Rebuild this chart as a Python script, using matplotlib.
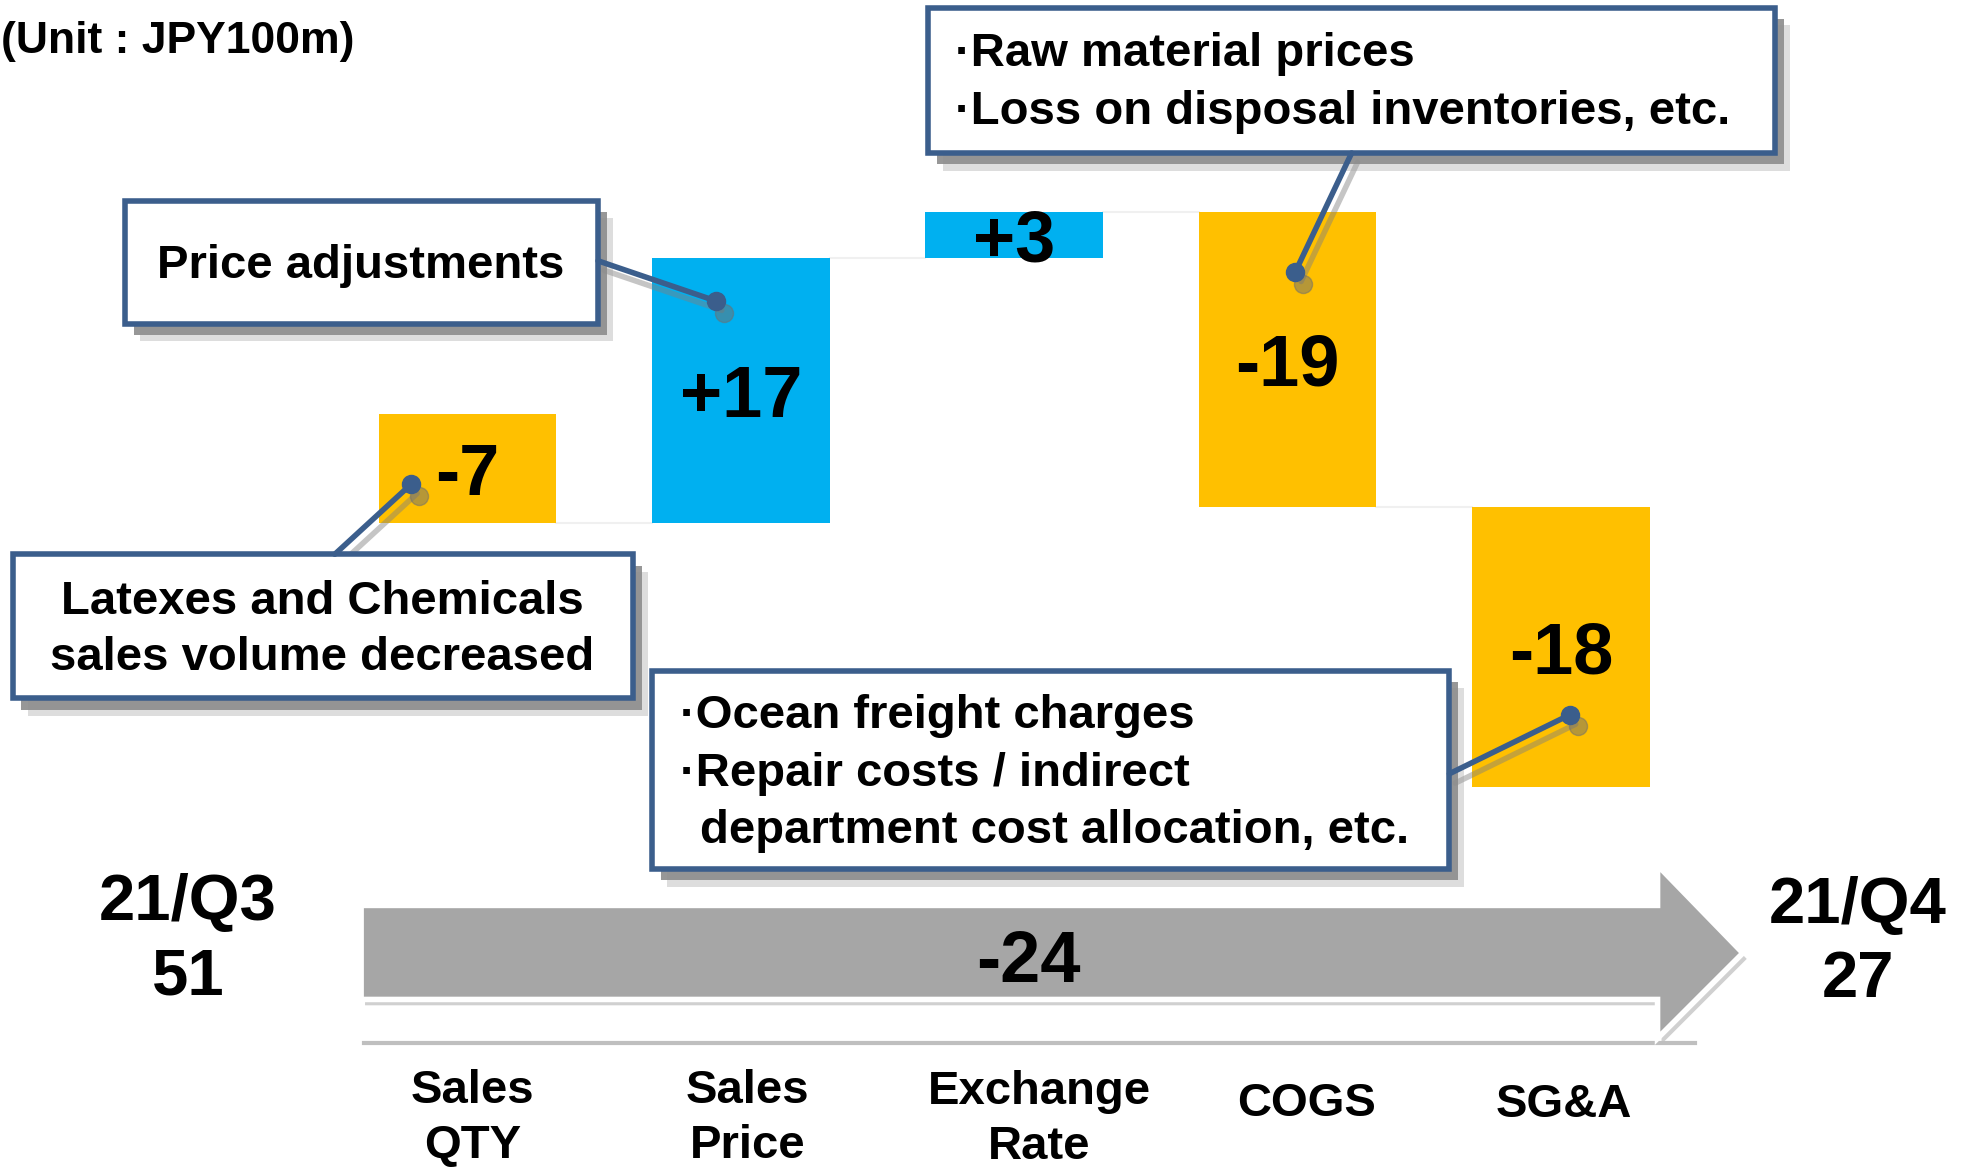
import matplotlib.pyplot as plt
from matplotlib.patches import Rectangle, Polygon

plt.rcParams['font.family'] = ['Liberation Sans', 'Noto Sans CJK JP', 'DejaVu Sans']
plt.rcParams['font.weight'] = 'bold'

# data
categories = ['Sales\nQTY', 'Sales\nPrice', 'Exchange\nRate', 'COGS', 'SG&A']
deltas = [-7, 17, 3, -19, -18]
start_label, start_value = '21/Q3', 51
end_label, end_value = '21/Q4', 27
total_change = -24
unit_text = '(Unit : JPY100m)'

BLUE = '#00B0F0'
ORANGE = '#FFC000'
NAVY = '#3B5E8C'
GRAY = '#A6A6A6'

fig = plt.figure(figsize=(19.66, 11.70), dpi=100)
ax = fig.add_axes([0, 0, 1, 1])
ax.set_xlim(-0.711, 6.482)
ax.set_ylim(2.4, 77.6)
ax.axis('off')


# reference layout pixel (1568x933) -> axes fraction
def P(x, y):
    return x / 1568, 1 - y / 933


# waterfall bars
bottoms = []
level = start_value
for d in deltas:
    bottoms.append(min(level, level + d))
    level += d
xs = list(range(1, len(deltas) + 1))
heights = [abs(d) for d in deltas]
colors = [BLUE if d > 0 else ORANGE for d in deltas]
ax.bar(xs, heights, bottom=bottoms, width=0.65, color=colors, zorder=2)

# faint connectors between bars
level = start_value
for i, d in enumerate(deltas[:-1]):
    level += d
    ax.plot([xs[i] + 0.325, xs[i + 1] - 0.325], [level, level],
            color='#F0F0F0', lw=1.5, zorder=1)

for x, b, h, d in zip(xs, bottoms, heights, deltas):
    ax.text(x, b + h / 2, f'{d:+d}', ha='center', va='center_baseline',
            fontsize=52, fontweight='bold', zorder=5)

# big grey arrow
arrow_pts = [P(288, 722), P(1322, 722), P(1322, 690), P(1390, 760),
             P(1322, 828), P(1322, 797), P(288, 797)]
shadow_pts = [(x + 0.002, y - 0.005) for x, y in arrow_pts]
ax.add_patch(Polygon(shadow_pts, closed=True, transform=ax.transAxes,
                     facecolor='#D0D0D0', edgecolor='none', zorder=1))
ax.add_patch(Polygon(arrow_pts, closed=True, transform=ax.transAxes,
                     facecolor=GRAY, edgecolor='white', lw=4, zorder=2))
ax.text(*P(820, 762), str(total_change), transform=ax.transAxes,
        ha='center', va='center_baseline', fontsize=52, fontweight='bold', zorder=3)

# baseline under arrow
ax.plot(*zip(P(290, 832), P(1352, 832)), transform=ax.transAxes,
        color='#BFBFBF', lw=3, zorder=1)

# start / end values
ax.text(*P(150, 750), f'{start_label}\n{start_value}', transform=ax.transAxes,
        ha='center', va='center', fontsize=47, linespacing=1.3)
ax.text(*P(1482, 752), f'{end_label}\n{end_value}', transform=ax.transAxes,
        ha='center', va='center', fontsize=47, linespacing=1.3)

# category labels
label_pos = [(377, 892), (596, 892), (829, 893), (1042, 880), (1247, 881)]
for c, (lx, ly) in zip(categories, label_pos):
    ax.text(*P(lx, ly), c, transform=ax.transAxes,
            ha='center', va='center', fontsize=34, linespacing=1.33)

ax.text(*P(1, 33), unit_text, transform=ax.transAxes, ha='left', va='center',
        fontsize=32)


# callout boxes
def callout_box(x0, y0, x1, y1):
    w = (x1 - x0) / 1568
    h = (y1 - y0) / 933
    for off, a, fc in [((12, 14), 0.35, '#A0A0A0'), ((7, 9), 0.9, '#8C8C8C')]:
        sx, sy = P(x0 + off[0], y1 + off[1])
        ax.add_patch(Rectangle((sx, sy), w, h, transform=ax.transAxes,
                               facecolor=fc, alpha=a, edgecolor='none', zorder=6))
    bx, by = P(x0, y1)
    ax.add_patch(Rectangle((bx, by), w, h, transform=ax.transAxes, facecolor='white',
                           edgecolor=NAVY, lw=4, zorder=7))


def leader(p0, p1):
    (ax0, ay0), (ax1, ay1) = P(*p0), P(*p1)
    ax.plot([ax0 + 0.003, ax1 + 0.003], [ay0 - 0.008, ay1 - 0.008], transform=ax.transAxes,
            color='#7F7F7F', alpha=0.45, lw=4, zorder=5, solid_capstyle='round')
    ax.plot([ax1 + 0.004], [ay1 - 0.01], 'o', transform=ax.transAxes,
            color='#6F6F6F', alpha=0.5, ms=13, zorder=5)
    ax.plot([ax0, ax1], [ay0, ay1], transform=ax.transAxes,
            color=NAVY, lw=4, zorder=8, solid_capstyle='round')
    ax.plot([ax1], [ay1], 'o', transform=ax.transAxes, color=NAVY, ms=13, zorder=8)


# Price adjustments
leader((477, 208), (571, 240))
callout_box(100, 160, 477, 258)
ax.text(*P(288, 212), 'Price adjustments', transform=ax.transAxes,
        ha='center', va='center', fontsize=34, zorder=9)

# Raw material
leader((1078, 122), (1033, 217))
callout_box(740, 6, 1416, 122)
ax.text(*P(762, 43), '·Raw material prices', transform=ax.transAxes,
        ha='left', va='center', fontsize=34, zorder=9)
ax.text(*P(762, 89), '·Loss on disposal inventories, etc.', transform=ax.transAxes,
        ha='left', va='center', fontsize=34, zorder=9)

# Latexes
leader((267, 442), (328, 386))
callout_box(10, 442, 505, 557)
ax.text(*P(257, 480), 'Latexes and Chemicals', transform=ax.transAxes,
        ha='center', va='center', fontsize=34, zorder=9)
ax.text(*P(257, 525), 'sales volume decreased', transform=ax.transAxes,
        ha='center', va='center', fontsize=34, zorder=9)

# Ocean freight
leader((1156, 617), (1252, 570))
callout_box(520, 535, 1156, 693)
ax.text(*P(542, 571), '·Ocean freight charges', transform=ax.transAxes,
        ha='left', va='center', fontsize=34, zorder=9)
ax.text(*P(542, 617), '·Repair costs / indirect', transform=ax.transAxes,
        ha='left', va='center', fontsize=34, zorder=9)
ax.text(*P(558, 663), 'department cost allocation, etc.', transform=ax.transAxes,
        ha='left', va='center', fontsize=34, zorder=9)

fig.savefig('out.png', dpi=100)
